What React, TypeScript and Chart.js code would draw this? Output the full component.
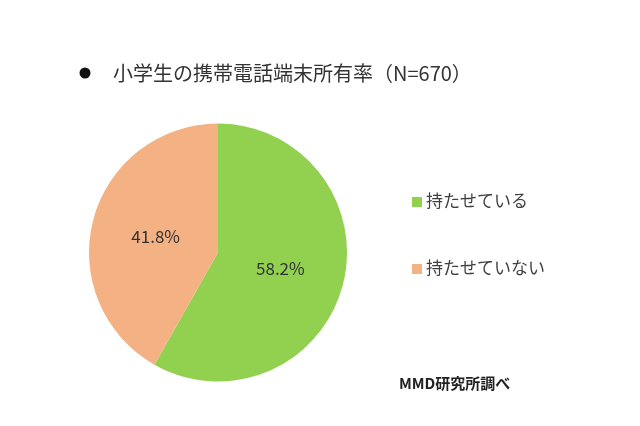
import React, { useEffect, useRef } from "react";
import { Chart, registerables } from "chart.js";

Chart.register(...registerables);

const categories = ["持たせている", "持たせていない"];
const values = [58.2, 41.8];
const colors = ["#92D050", "#F4B183"];
const titleText = "小学生の携帯電話端末所有率（N=670）";
const sourceText = "MMD研究所調べ";

const FONT = '"Noto Sans CJK JP", "Noto Sans", sans-serif';

const overlayPlugin = {
  id: "overlay",
  afterDatasetsDraw(chart: any) {
    const ctx = chart.ctx;
    ctx.save();
    // slice labels
    const meta = chart.getDatasetMeta(0);
    meta.data.forEach((arc: any, i: number) => {
      const p = arc.getProps(["x", "y", "startAngle", "endAngle", "outerRadius"], true);
      const mid = (p.startAngle + p.endAngle) / 2;
      const r = p.outerRadius * 0.5;
      ctx.fillStyle = "#333333";
      ctx.font = `17px ${FONT}`;
      ctx.textAlign = "center";
      ctx.textBaseline = "middle";
      ctx.fillText(values[i].toFixed(1) + "%", p.x + Math.cos(mid) * r, p.y + Math.sin(mid) * r);
    });
    // title
    ctx.fillStyle = "#111111";
    ctx.beginPath();
    ctx.arc(85, 73, 5.5, 0, Math.PI * 2);
    ctx.fill();
    ctx.fillStyle = "#333333";
    ctx.font = `20px ${FONT}`;
    ctx.textAlign = "left";
    ctx.textBaseline = "middle";
    ctx.fillText(titleText, 113, 73);
    // legend
    const legendY = [201, 268];
    categories.forEach((c, i) => {
      ctx.fillStyle = colors[i];
      ctx.fillRect(412, legendY[i] - 4, 10, 10);
      ctx.fillStyle = "#404040";
      ctx.font = `17px ${FONT}`;
      ctx.textAlign = "left";
      ctx.textBaseline = "middle";
      ctx.fillText(c, 426, legendY[i]);
    });
    // source
    ctx.fillStyle = "#222222";
    ctx.font = `bold 15px ${FONT}`;
    ctx.fillText(sourceText, 399, 383);
    ctx.restore();
  },
};

export default function App() {
  const ref = useRef<HTMLCanvasElement>(null);
  useEffect(() => {
    if (!ref.current) return;
    const chart = new Chart(ref.current, {
      type: "pie",
      data: {
        labels: categories,
        datasets: [
          {
            data: values,
            backgroundColor: colors,
            borderWidth: 0,
          },
        ],
      },
      options: {
        animation: false,
        responsive: false,
        maintainAspectRatio: false,
        devicePixelRatio: 1,
        layout: { padding: { left: 89, right: 293, top: 123.5, bottom: 44.5 } },
        plugins: {
          legend: { display: false },
          tooltip: { enabled: false },
          title: { display: false },
        },
      },
      plugins: [overlayPlugin],
    });
    return () => chart.destroy();
  }, []);
  return (
    <div style={{ position: "absolute", left: 0, top: 0, width: 640, height: 426, background: "#fff" }}>
      <canvas ref={ref} width={640} height={426} style={{ width: 640, height: 426, display: "block" }} />
    </div>
  );
}
